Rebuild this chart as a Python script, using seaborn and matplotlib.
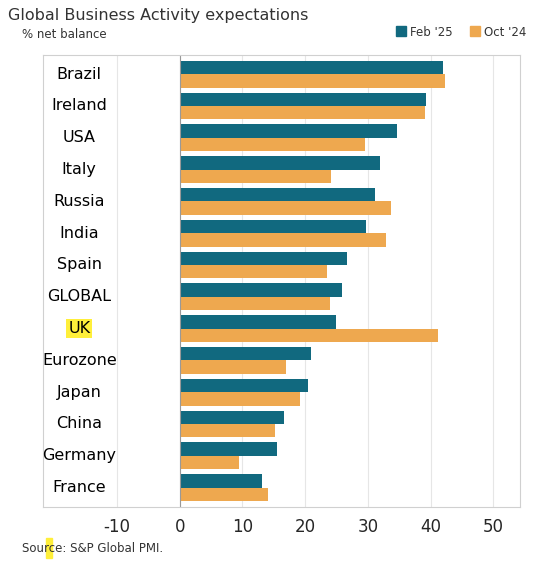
import matplotlib
matplotlib.use("Agg")
import matplotlib.pyplot as plt
import seaborn as sns
import pandas as pd

countries = ["Brazil","Ireland","USA","Italy","Russia","India","Spain","GLOBAL","UK","Eurozone","Japan","China","Germany","France"]
feb25 = [41.9,39.2,34.6,31.9,31.1,29.7,26.6,25.8,24.9,20.9,20.4,16.6,15.5,13.1]
oct24 = [42.3,39.1,29.5,24.1,33.7,32.9,23.4,23.9,41.1,16.9,19.1,15.2,9.4,14.0]
series = ["Feb '25","Oct '24"]

df = pd.DataFrame({"country": countries*2, "value": feb25+oct24,
                   "series": [series[0]]*len(countries)+[series[1]]*len(countries)})

sns.set_theme(style="white")
plt.rcParams['font.family'] = ['DejaVu Sans']
plt.rcParams['axes.unicode_minus'] = False
fig = plt.figure(figsize=(5.5,5.68), dpi=100)
ax = fig.add_axes([0.078,0.108,0.867,0.795])
sns.barplot(data=df, y="country", x="value", hue="series", orient="h",
            palette=["#11697f","#eea84f"], saturation=1, width=0.84, ax=ax,
            legend=False, linewidth=0)
ax.set_ylim(13.6,-0.6)
ax.set_xlim(-21.8,54.2)
ax.set_xticks([-10,0,10,20,30,40,50])
ax.tick_params(axis='x', labelsize=12, length=0, pad=8)
ax.set_yticks([]); ax.set_ylabel(""); ax.set_xlabel("")
ax.grid(axis='x', color='#e6e6e6', lw=0.8); ax.set_axisbelow(True)
ax.axvline(0, color='#999999', lw=0.8)
for s in ax.spines.values():
    s.set_color('#d0d0d0'); s.set_linewidth(0.8)
for i,c in enumerate(countries):
    t = ax.text(-16, i, c, ha='center', va='center', fontsize=11.5, color='black')
    if c == "UK":
        t.set_bbox(dict(facecolor='#ffef3a', edgecolor='none', pad=1.5))
fig.text(0.015,0.965,"Global Business Activity expectations", fontsize=11.5, color='#333333')
fig.text(0.04,0.933,"% net balance", fontsize=8.5, color='#333333')
from matplotlib.patches import Rectangle
fig.patches.append(Rectangle((0.72,0.937),0.018,0.018,transform=fig.transFigure,color="#11697f"))
fig.text(0.745,0.937,"Feb '25", fontsize=8.5, color='#333333')
fig.patches.append(Rectangle((0.855,0.937),0.018,0.018,transform=fig.transFigure,color="#eea84f"))
fig.text(0.88,0.937,"Oct '24", fontsize=8.5, color='#333333')
fig.patches.append(Rectangle((0.083,0.018),0.012,0.034,transform=fig.transFigure,color="#ffef3a",zorder=-1))
fig.text(0.04,0.028,"Source: S&P Global PMI.", fontsize=8.5, color='#333333')
fig.savefig("out.png", dpi=100)
